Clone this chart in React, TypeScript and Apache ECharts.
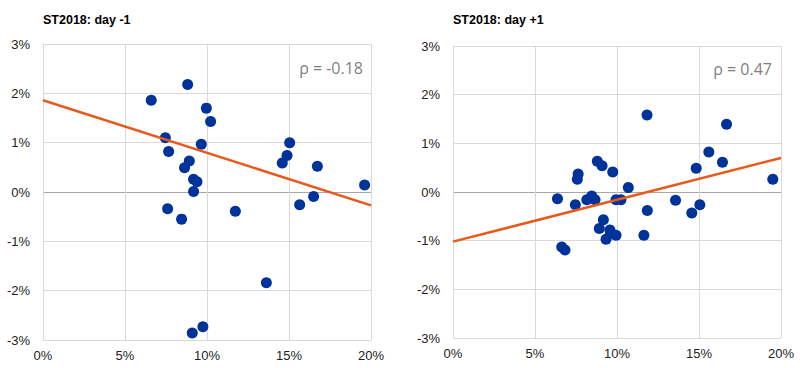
import React, { useEffect, useRef } from "react";
import * as echarts from "echarts";

const titles = ["ST2018: day -1", "ST2018: day +1"];
const rhoLabels = ["ρ = -0.18", "ρ = 0.47"];

const leftX = [6.6, 8.82, 9.96, 10.22, 7.46, 7.66, 9.65, 8.92, 8.63, 9.18, 9.39, 9.18, 15.04, 14.88, 14.59, 16.73, 19.61, 7.6, 8.45, 11.73, 15.65, 16.5, 13.62, 9.1, 9.75];
const leftY = [1.86, 2.18, 1.7, 1.43, 1.1, 0.82, 0.97, 0.63, 0.49, 0.26, 0.21, 0.01, 1.0, 0.74, 0.59, 0.52, 0.14, -0.34, -0.55, -0.39, -0.26, -0.09, -1.84, -2.86, -2.73];

const rightX = [11.83, 16.68, 15.6, 16.43, 14.83, 8.8, 9.09, 9.74, 7.63, 7.58, 19.5, 10.69, 6.37, 7.46, 8.16, 8.46, 8.66, 9.94, 10.24, 11.85, 13.57, 15.05, 14.56, 11.64, 9.17, 8.92, 9.57, 9.94, 9.33, 9.61, 6.63, 6.83];
const rightY = [1.58, 1.39, 0.82, 0.61, 0.49, 0.63, 0.54, 0.41, 0.37, 0.26, 0.26, 0.09, -0.14, -0.26, -0.16, -0.08, -0.16, -0.16, -0.16, -0.38, -0.17, -0.26, -0.43, -0.89, -0.57, -0.75, -0.78, -0.89, -0.97, -0.85, -1.13, -1.19];

const leftTrend = [[0, 1.86], [20, -0.27]];
const rightTrend = [[0, -1.02], [20, 0.7]];

const xTicks = { min: 0, max: 20, interval: 5 };
const yTicks = { min: -3, max: 3, interval: 1 };

const BLUE = "#003399";
const ORANGE = "#E8591C";
const GRID = "#D9D9D9";
const ZERO = "#A6A6A6";

export default function App() {
  const ref = useRef<HTMLDivElement>(null);
  useEffect(() => {
    if (!ref.current) return;
    const chart = echarts.init(ref.current, null, { renderer: "svg" });
    const splitColors: string[] = [];
    for (let v = yTicks.min; v <= yTicks.max; v += yTicks.interval) {
      splitColors.push(v === 0 ? ZERO : GRID);
    }
    const labelStyle = { color: "#222", fontSize: 13, fontFamily: "Liberation Sans, Arial, sans-serif" };
    const mkX = (gi: number) => ({
      type: "value",
      gridIndex: gi,
      ...xTicks,
      axisLine: { show: false },
      axisTick: { show: false },
      axisLabel: { ...labelStyle, formatter: "{value}%", margin: 9 },
      splitLine: { show: true, lineStyle: { color: GRID, width: 1 } },
    });
    const mkY = (gi: number) => ({
      type: "value",
      gridIndex: gi,
      ...yTicks,
      axisLine: { show: false },
      axisTick: { show: false },
      axisLabel: { ...labelStyle, formatter: "{value}%", margin: 13 },
      splitLine: { show: true, lineStyle: { color: splitColors, width: 1 } },
    });
    const zip = (xs: number[], ys: number[]) => xs.map((x, i) => [x, ys[i]]);
    chart.setOption({
      animation: false,
      backgroundColor: "#fff",
      grid: [
        { left: 43, top: 44, width: 328, height: 296 },
        { left: 453, top: 46, width: 328, height: 292 },
      ],
      xAxis: [mkX(0), mkX(1)],
      yAxis: [mkY(0), mkY(1)],
      series: [
        { type: "scatter", xAxisIndex: 0, yAxisIndex: 0, data: zip(leftX, leftY), symbolSize: 11, itemStyle: { color: BLUE, opacity: 1 }, z: 2 },
        { type: "line", xAxisIndex: 0, yAxisIndex: 0, data: leftTrend, symbol: "none", lineStyle: { color: ORANGE, width: 2.5 }, z: 3 },
        { type: "scatter", xAxisIndex: 1, yAxisIndex: 1, data: zip(rightX, rightY), symbolSize: 11, itemStyle: { color: BLUE, opacity: 1 }, z: 2 },
        { type: "line", xAxisIndex: 1, yAxisIndex: 1, data: rightTrend, symbol: "none", lineStyle: { color: ORANGE, width: 2.5 }, z: 3 },
      ],
      graphic: [
        { type: "text", left: 43, top: 13, style: { text: titles[0], fontSize: 12.5, fontWeight: "bold", fontFamily: "Liberation Sans, Arial, sans-serif", fill: "#000" } },
        { type: "text", left: 453, top: 13, style: { text: titles[1], fontSize: 12.5, fontWeight: "bold", fontFamily: "Liberation Sans, Arial, sans-serif", fill: "#000" } },
        { type: "text", right: 800 - 363, top: 60, style: { text: rhoLabels[0], fontSize: 16, fontFamily: "Open Sans, sans-serif", fill: "#7F7F7F" } },
        { type: "text", right: 800 - 772, top: 61, style: { text: rhoLabels[1], fontSize: 16, fontFamily: "Open Sans, sans-serif", fill: "#7F7F7F" } },
      ],
    });
    return () => chart.dispose();
  }, []);
  return <div ref={ref} style={{ position: "fixed", left: 0, top: 0, width: 800, height: 368 }} />;
}
